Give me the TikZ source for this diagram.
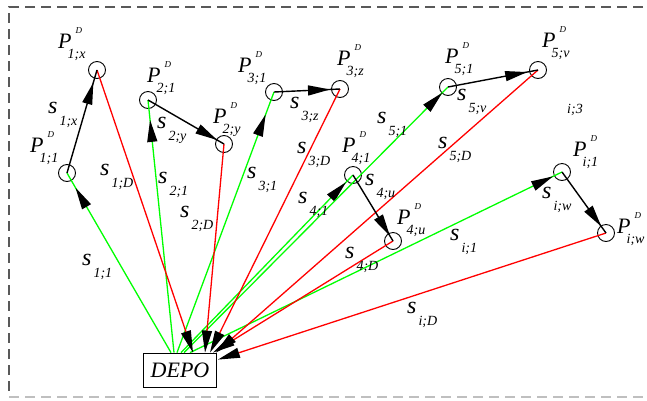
\documentclass[tikz,border=0pt]{standalone}
\usepackage{fontspec}
\setmainfont{Liberation Serif}
\usetikzlibrary{positioning,arrows.meta,decorations.markings}

% point label P^D_{..} and route label s_{..}
\newcommand{\plbl}[1]{{\fontsize{22}{22}\selectfont P}\kern-4pt\rlap{\raisebox{15pt}{\kern8pt\fontsize{9}{9}\selectfont D}}\raisebox{-10pt}{\fontsize{14}{14}\selectfont #1}}
\newcommand{\slbl}[1]{{\fontsize{24}{24}\selectfont s}\kern2pt\raisebox{-12pt}{\fontsize{14}{14}\selectfont #1}}

\begin{document}
\begin{tikzpicture}[
  x=1pt, y=-1pt,
  hd/.tip={Triangle[length=22pt, width=10pt, black]},
  cnode/.style={circle, draw, line width=0.9pt, minimum size=17pt, inner sep=0pt},
  dnode/.style={rectangle, draw, line width=0.8pt, minimum width=73pt, minimum height=34pt,
                inner sep=0pt, font=\fontsize{22}{22}\selectfont\itshape},
  lbl/.style={anchor=base west, inner sep=0pt, font=\itshape},
  outbound/.style={draw=green, line width=1.3pt, postaction={decorate},
                   decoration={markings, mark=at position -#1 with {\arrow{hd}}}},
  transfer/.style={draw=black, line width=1.4pt, postaction={decorate},
                   decoration={markings, mark=at position -#1 with {\arrow{hd}}}},
  inbound/.style={draw=red, line width=1.3pt, -{hd}},
  frame/.style={line width=1.2pt, dash pattern=on 10pt off 6pt},
]
  \useasboundingbox (0,0) rectangle (647,400);

  % dashed frame (open on the right)
  \draw[frame, black!65] (643,7) -- (9,7) -- (9,397);
  \draw[frame, black!25] (9,397) -- (643,397);

  % customer points
  \node[cnode] (p11) at (67,173) {};
  \node[cnode] (p1x) at (97,70) {};
  \node[cnode] (p21) at (148,100) {};
  \node[cnode] (p2y) at (224,144) {};
  \node[cnode] (p31) at (274,92) {};
  \node[cnode] (p3z) at (340,89) {};
  \node[cnode] (p41) at (353,175) {};
  \node[cnode] (p4u) at (393,241) {};
  \node[cnode] (p51) at (448,87) {};
  \node[cnode] (p5v) at (538,70) {};
  \node[cnode] (pi1) at (562,172) {};
  \node[cnode] (piw) at (606,233) {};

  % depot
  \node[dnode] (depo) at (180,370) {DEPO};

  % start / end points on the depot
  \coordinate (g1) at ([xshift=-9pt]depo.north);
  \coordinate (g2) at ([xshift=-6pt]depo.north);
  \coordinate (g3) at ([xshift=-3pt]depo.north);
  \coordinate (g4) at ([xshift=1pt]depo.north);
  \coordinate (g5) at ([xshift=4pt]depo.north);
  \coordinate (gi) at ([xshift=10pt]depo.north);
  \coordinate (r1) at ([xshift=13pt]depo.north);
  \coordinate (r2) at ([xshift=25pt]depo.north);
  \coordinate (r3) at ([xshift=30pt]depo.north);
  \coordinate (r4) at ([xshift=33pt]depo.north);
  \coordinate (r5) at ([xshift=-1pt]depo.north east);
  \coordinate (ri) at ([xshift=1pt, yshift=-7pt]depo.north east);

  % depot -> first point (green)
  \draw[outbound=17pt] (g1) -- (p11.center);
  \draw[outbound=20pt] (g2) -- (p21.center);
  \draw[outbound=24pt] (g3) -- (p31.center);
  \draw[outbound=10pt] (g4) -- (p41.center);
  \draw[outbound=8pt]  (g5) -- (p51.center);
  \draw[outbound=10pt] (gi) -- (pi1.center);

  % last point -> depot (red)
  \draw[inbound] (p1x.center) -- (r1);
  \draw[inbound] (p2y.center) -- (r2);
  \draw[inbound] (p3z.center) -- (r3);
  \draw[inbound] (p4u.center) -- (r4);
  \draw[inbound] (p5v.center) -- (r5);
  \draw[inbound] (piw.center) -- (ri);

  % first point -> last point (black)
  \draw[transfer=13pt] (p11.center) -- (p1x.center);
  \draw[transfer=8pt]  (p21.center) -- (p2y.center);
  \draw[transfer=10pt] (p31.center) -- (p3z.center);
  \draw[transfer=6pt]  (p41.center) -- (p4u.center);
  \draw[transfer=11pt] (p51.center) -- (p5v.center);
  \draw[transfer=8pt]  (pi1.center) -- (piw.center);

  % point labels
  \node[lbl] (l11) at (30,152)  {\plbl{1;1}};
  \node[lbl] (l1x) at (58,48)   {\plbl{1;x}};
  \node[lbl] (l21) at (147,82)  {\plbl{2;1}};
  \node[lbl] (l2y) at (213,123) {\plbl{2;y}};
  \node[lbl] (l31) at (238,72)  {\plbl{3;1}};
  \node[lbl] (l3z) at (337,65)  {\plbl{3;z}};
  \node[lbl] (l41) at (342,152) {\plbl{4;1}};
  \node[lbl] (l4u) at (397,224) {\plbl{4;u}};
  \node[lbl] (l51) at (445,63)  {\plbl{5;1}};
  \node[lbl] (l5v) at (542,47)  {\plbl{5;v}};
  \node[lbl] (li1) at (573,156) {\plbl{i;1}};
  \node[lbl] (liw) at (617,233) {\plbl{i;w}};

  % route labels
  \node[lbl] (s11) at (82,265)  {\slbl{1;1}};
  \node[lbl] (s1x) at (48,113)  {\slbl{1;x}};
  \node[lbl] (s1D) at (100,175) {\slbl{1;D}};
  \node[lbl] (s21) at (158,183) {\slbl{2;1}};
  \node[lbl] (s2y) at (157,128) {\slbl{2;y}};
  \node[lbl] (s2D) at (180,217) {\slbl{2;D}};
  \node[lbl] (s31) at (247,178) {\slbl{3;1}};
  \node[lbl] (s3z) at (290,108) {\slbl{3;z}};
  \node[lbl] (s3D) at (297,153) {\slbl{3;D}};
  \node[lbl] (s41) at (298,203) {\slbl{4;1}};
  \node[lbl] (s4u) at (365,185) {\slbl{4;u}};
  \node[lbl] (s4D) at (345,258) {\slbl{4;D}};
  \node[lbl] (s51) at (377,123) {\slbl{5;1}};
  \node[lbl] (s5v) at (457,100) {\slbl{5;v}};
  \node[lbl] (s5D) at (438,148) {\slbl{5;D}};
  \node[lbl] (si1) at (450,240) {\slbl{i;1}};
  \node[lbl] (siw) at (542,198) {\slbl{i;w}};
  \node[lbl] (siD) at (407,313) {\slbl{i;D}};
  \node[lbl, font=\fontsize{14}{14}\selectfont\itshape] (i3) at (567,113) {i;3};
\end{tikzpicture}
\end{document}
